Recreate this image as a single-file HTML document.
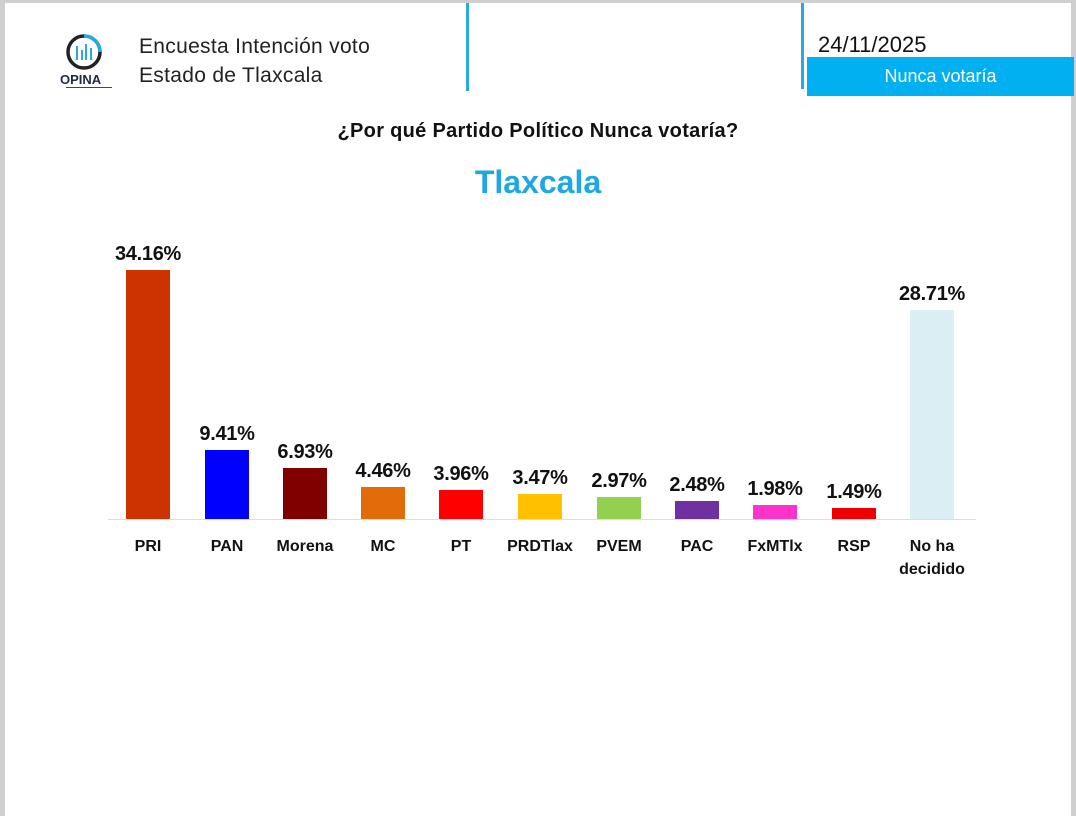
<!DOCTYPE html>
<html><head><meta charset="utf-8"><style>
body{margin:0;width:1076px;height:816px;background:#fff;position:relative;overflow:hidden;font-family:"Liberation Sans",sans-serif}
.a{position:absolute}
.v{position:absolute;width:90px;text-align:center;font-weight:bold;font-size:20px;color:#111;letter-spacing:-0.3px}
.l{position:absolute;width:100px;text-align:center;font-weight:bold;font-size:16px;color:#111;line-height:23px}
.b{position:absolute;width:44px}
</style></head><body>
<div class="a" style="left:0;top:0;width:5px;height:816px;background:#cfcfcf"></div>
<div class="a" style="left:1071px;top:0;width:5px;height:816px;background:#cfcfcf"></div>
<div class="a" style="left:0;top:0;width:1076px;height:3px;background:#cfcfcf"></div>
<svg class="a" style="left:64px;top:32px" width="40" height="40"><circle cx="20" cy="20" r="16" fill="none" stroke="#222" stroke-width="3.5"/><path d="M20 4 A16 16 0 0 1 36 20" stroke="#29a9dc" stroke-width="3.5" fill="none"/><g stroke="#29a9dc" stroke-width="2"><line x1="13" y1="14" x2="13" y2="28"/><line x1="18" y1="18" x2="18" y2="28"/><line x1="22" y1="12" x2="22" y2="28"/><line x1="27" y1="16" x2="27" y2="28"/></g></svg>
<div class="a" style="left:60px;top:72px;font-size:13px;font-weight:bold;color:#1c2a44">OPINA</div>
<div class="a" style="left:66px;top:87px;width:46px;height:1px;background:#444"></div>
<div class="a" style="left:139px;top:32px;font-size:21px;color:#222;line-height:29px;letter-spacing:0.3px">Encuesta Intención voto<br>Estado de Tlaxcala</div>
<div class="a" style="left:466px;top:3px;width:3px;height:88px;background:#29a9dc"></div>
<div class="a" style="left:801px;top:3px;width:3px;height:86px;background:#29a9dc"></div>
<div class="a" style="left:818px;top:32px;font-size:22px;color:#111">24/11/2025</div>
<div class="a" style="left:807px;top:57px;width:267px;height:39px;background:#00b0f0;color:#fff;font-size:18px;text-align:center;line-height:39px">Nunca votaría</div>
<div class="a" style="left:0;top:120px;width:1076px;text-align:center;font-weight:bold;font-size:20px;color:#111;letter-spacing:0.3px">¿Por qué Partido Político Nunca votaría?</div>
<div class="a" style="left:0;top:164px;width:1076px;text-align:center;font-weight:bold;font-size:32px;color:#1ea7e0">Tlaxcala</div>
<div class="a" style="left:108px;top:519px;width:868px;height:1px;background:#ddd"></div>
<div class="b" style="left:126px;top:270px;height:249px;background:#cc3300"></div>
<div class="b" style="left:205px;top:450px;height:69px;background:#0000ff"></div>
<div class="b" style="left:283px;top:468px;height:51px;background:#800000"></div>
<div class="b" style="left:361px;top:487px;height:32px;background:#e36c0a"></div>
<div class="b" style="left:439px;top:490px;height:29px;background:#ff0000"></div>
<div class="b" style="left:518px;top:494px;height:25px;background:#ffc000"></div>
<div class="b" style="left:597px;top:497px;height:22px;background:#92d050"></div>
<div class="b" style="left:675px;top:501px;height:18px;background:#7030a0"></div>
<div class="b" style="left:753px;top:505px;height:14px;background:#ff33cc"></div>
<div class="b" style="left:832px;top:508px;height:11px;background:#ee0000"></div>
<div class="b" style="left:910px;top:310px;height:209px;background:#daeef3"></div>
<div class="v" style="left:103px;top:243px">34.16%</div>
<div class="v" style="left:182px;top:423px">9.41%</div>
<div class="v" style="left:260px;top:441px">6.93%</div>
<div class="v" style="left:338px;top:460px">4.46%</div>
<div class="v" style="left:416px;top:463px">3.96%</div>
<div class="v" style="left:495px;top:467px">3.47%</div>
<div class="v" style="left:574px;top:470px">2.97%</div>
<div class="v" style="left:652px;top:474px">2.48%</div>
<div class="v" style="left:730px;top:478px">1.98%</div>
<div class="v" style="left:809px;top:481px">1.49%</div>
<div class="v" style="left:887px;top:283px">28.71%</div>
<div class="l" style="left:98px;top:535px">PRI</div>
<div class="l" style="left:177px;top:535px">PAN</div>
<div class="l" style="left:255px;top:535px">Morena</div>
<div class="l" style="left:333px;top:535px">MC</div>
<div class="l" style="left:411px;top:535px">PT</div>
<div class="l" style="left:490px;top:535px">PRDTlax</div>
<div class="l" style="left:569px;top:535px">PVEM</div>
<div class="l" style="left:647px;top:535px">PAC</div>
<div class="l" style="left:725px;top:535px">FxMTlx</div>
<div class="l" style="left:804px;top:535px">RSP</div>
<div class="l" style="left:882px;top:535px">No ha<br>decidido</div>
</body></html>
